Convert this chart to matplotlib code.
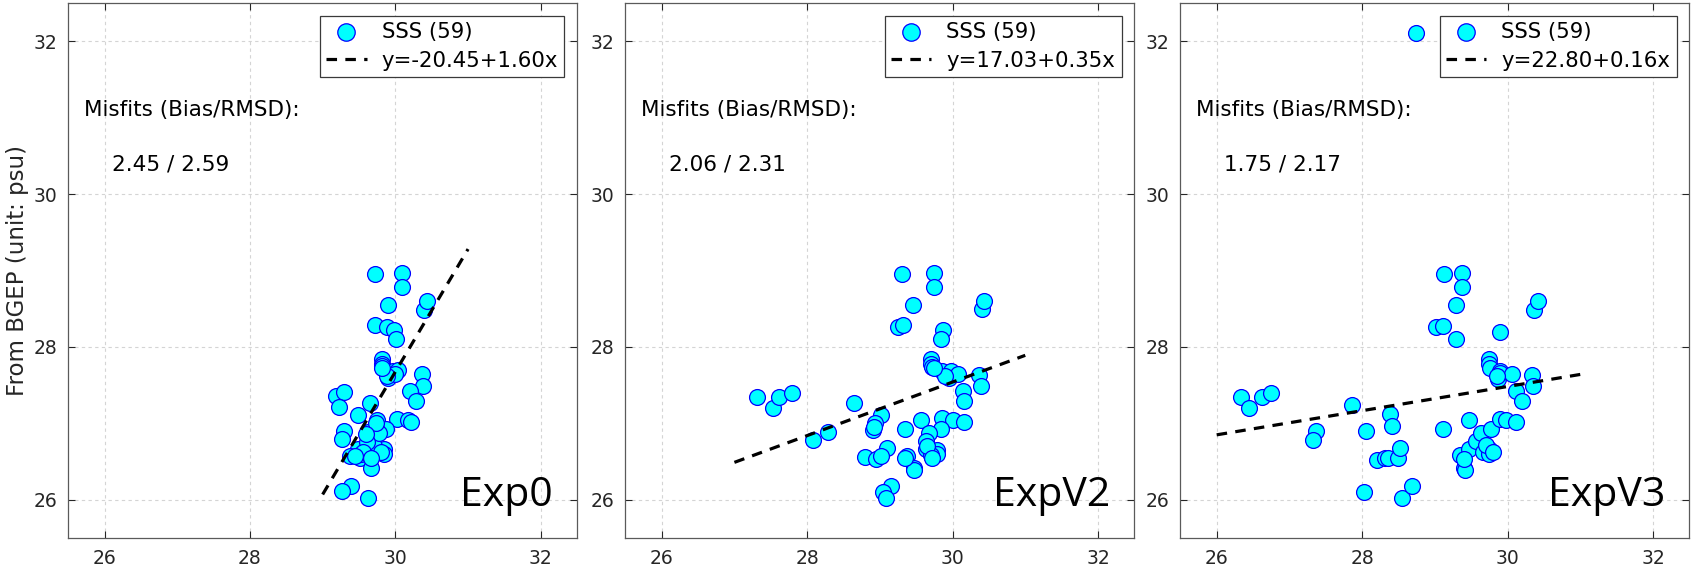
import matplotlib
matplotlib.use("Agg")
import matplotlib.pyplot as plt

# ---------------- data ----------------
exp_names = ["Exp0", "ExpV2", "ExpV3"]
misfit_text = ["2.45 / 2.59", "2.06 / 2.31", "1.75 / 2.17"]
fit_labels = ["y=-20.45+1.60x", "y=17.03+0.35x", "y=22.80+0.16x"]
legend_label = "SSS (59)"
ylabel_text = "From BGEP (unit: psu)"

# regression line end points as drawn
fit_x0 = [[29.0, 31.0], [27.0, 31.0], [26.0, 31.0]]
fit_y0 = [[26.07, 29.28], [26.49, 27.89], [26.85, 27.64]]

exp0_x = [29.72, 30.09, 30.09, 29.90, 30.39, 30.43, 29.72, 29.89, 29.98, 30.01,
          29.81, 29.81, 29.82, 29.97, 30.04, 29.90, 29.99, 30.36, 30.38, 30.20,
          30.29, 29.19, 29.29, 29.22, 29.65, 29.49, 30.02, 30.17, 30.22, 29.75,
          29.87, 29.74, 29.62, 29.29, 29.27, 29.69, 29.49, 29.85, 29.85, 29.71,
          29.65, 29.37, 29.51, 29.53, 29.67, 29.39, 29.26, 29.63, 29.70, 29.78,
          29.61, 29.55, 29.80, 29.66, 29.73, 29.45, 29.88, 29.82, 29.60]
exp0_y = [28.96, 28.97, 28.79, 28.55, 28.48, 28.60, 28.29, 28.26, 28.22, 28.10,
          27.84, 27.78, 27.75, 27.68, 27.70, 27.60, 27.64, 27.64, 27.49, 27.42,
          27.29, 27.36, 27.41, 27.21, 27.26, 27.11, 27.06, 27.04, 27.02, 27.05,
          26.92, 26.92, 26.89, 26.90, 26.79, 26.81, 26.66, 26.66, 26.60, 26.66,
          26.58, 26.57, 26.55, 26.60, 26.41, 26.18, 26.11, 26.03, 26.70, 26.88,
          26.76, 26.62, 26.62, 26.55, 27.00, 26.57, 27.62, 27.72, 26.86]

expv2_x = [29.31, 29.74, 29.74, 29.46, 30.40, 30.43, 29.25, 29.32, 29.87, 29.84,
           29.71, 29.71, 29.72, 29.86, 29.98, 29.95, 30.07, 30.36, 30.39, 30.15,
           30.16, 28.65, 29.02, 28.94, 28.90, 29.35, 29.57, 29.85, 30.00, 30.16,
           29.84, 29.67, 29.63, 29.10, 28.80, 28.95, 29.02, 29.38, 29.47, 29.63,
           29.79, 29.79, 29.70, 29.15, 29.05, 29.09, 27.31, 27.53, 27.62, 27.79,
           28.08, 28.29, 29.47, 29.65, 29.72, 29.90, 28.92, 29.34, 29.75]
expv2_y = [28.96, 28.97, 28.79, 28.55, 28.49, 28.60, 28.26, 28.29, 28.22, 28.10,
           27.84, 27.78, 27.74, 27.68, 27.68, 27.60, 27.64, 27.63, 27.49, 27.42,
           27.29, 27.26, 27.11, 27.00, 26.91, 26.92, 27.04, 27.07, 27.04, 27.02,
           26.92, 26.88, 26.77, 26.68, 26.56, 26.54, 26.57, 26.57, 26.41, 26.66,
           26.65, 26.60, 26.58, 26.18, 26.10, 26.03, 27.34, 27.20, 27.35, 27.40,
           26.78, 26.89, 26.39, 26.70, 26.55, 27.62, 26.95, 26.55, 27.72]

expv3_x = [28.74, 26.34, 26.45, 26.63, 26.75, 27.37, 27.33, 27.86, 28.05, 28.03,
           28.20, 28.31, 28.36, 28.38, 28.41, 28.49, 28.52, 28.55, 28.68, 29.11,
           29.01, 29.11, 29.13, 29.38, 29.38, 29.29, 29.29, 29.34, 29.40, 29.41,
           29.47, 29.47, 29.57, 29.64, 29.66, 29.75, 29.75, 29.77, 29.89, 29.98,
           30.11, 29.90, 29.75, 29.75, 29.76, 29.89, 29.87, 29.89, 30.06, 30.12,
           30.20, 30.34, 30.35, 30.36, 30.42, 29.70, 29.80, 29.85, 29.40]
expv3_y = [32.10, 27.34, 27.20, 27.35, 27.40, 26.90, 26.78, 27.24, 26.90, 26.10,
           26.52, 26.55, 26.55, 27.12, 26.97, 26.55, 26.68, 26.03, 26.18, 26.93,
           28.26, 28.28, 28.96, 28.97, 28.79, 28.55, 28.10, 26.58, 26.41, 26.39,
           26.66, 27.04, 26.77, 26.88, 26.62, 26.66, 26.60, 26.92, 27.06, 27.04,
           27.02, 28.20, 27.84, 27.78, 27.73, 27.68, 27.58, 27.66, 27.64, 27.42,
           27.29, 27.63, 27.49, 28.48, 28.60, 26.72, 26.63, 27.62, 26.54]

xs = [exp0_x, expv2_x, expv3_x]
ys = [exp0_y, expv2_y, expv3_y]

ticks = [26, 28, 30, 32]
lims = (25.5, 32.5)

# ---------------- figure ----------------
plt.rcParams['font.family'] = ['DejaVu Sans']
fig = plt.figure(figsize=(16.91, 5.77), dpi=100)

lefts = [0.0403, 0.3698, 0.6980]
bottom = 0.0675
width = 0.301
height = 0.9275

for i in range(3):
    ax = fig.add_axes([lefts[i], bottom, width, height])
    ax.set_xlim(*lims)
    ax.set_ylim(*lims)
    ax.set_xticks(ticks)
    ax.set_yticks(ticks)
    ax.grid(True, color='#d4d4d4', linestyle=(0, (3, 3)), linewidth=0.8)
    ax.set_axisbelow(True)
    ax.tick_params(direction='in', length=5, width=0.8, top=True, right=True,
                   labelsize=13.5, colors='#262626', pad=8)
    for sp in ax.spines.values():
        sp.set_color('#5a5a5a')
        sp.set_linewidth(0.9)

    ax.scatter(xs[i], ys[i], s=130, facecolor='#00ffff', edgecolor='#0000ff',
               linewidths=0.9, label=legend_label, zorder=3)
    ax.plot(fit_x0[i], fit_y0[i], color='black', lw=2.3,
            linestyle=(0, (3.3, 2.6)), label=fit_labels[i], zorder=4)

    ax.text(25.72, 31.10, "Misfits (Bias/RMSD):", fontsize=15.5, va='center',
            ha='left', color='black')
    ax.text(26.10, 30.39, misfit_text[i], fontsize=15.5, va='center',
            ha='left', color='black')
    ax.text(32.17, 25.92, exp_names[i], fontsize=29.5, ha='right',
            va='baseline', family=['Open Sans', 'DejaVu Sans'], color='black')

    leg = ax.legend(loc='upper right', fontsize=15.3, frameon=True,
                    fancybox=False, edgecolor='#3a3a3a', framealpha=1,
                    borderpad=0.3, labelspacing=0.42, handlelength=1.9,
                    handletextpad=0.7, borderaxespad=0.6, markerscale=1.1)
    leg.get_frame().set_linewidth(0.9)

    if i == 0:
        ax.set_ylabel(ylabel_text, fontsize=16.5, color='#262626', labelpad=3)

fig.savefig("out.png", dpi=100)
